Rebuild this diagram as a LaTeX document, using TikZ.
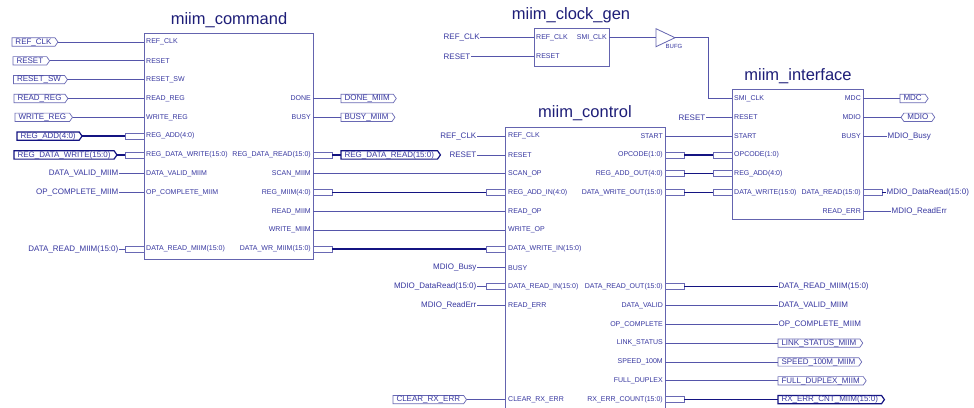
\documentclass[tikz,border=0pt]{standalone}
\usepackage{fontspec}
\setmainfont{Liberation Sans}
\usetikzlibrary{shapes.symbols}
\definecolor{wirec}{RGB}{85,85,170}
\definecolor{txtc}{RGB}{55,55,160}
\definecolor{busc}{RGB}{20,20,130}
\definecolor{titc}{RGB}{30,30,120}
\definecolor{blkc}{RGB}{100,100,175}
\definecolor{portc}{RGB}{105,105,180}
\tikzset{
  wire/.style={draw=wirec, line width=0.8pt},
  bus/.style={draw=busc, line width=1.5pt},
  blk/.style={draw=blkc, line width=0.8pt, inner sep=0pt, outer sep=0pt},
  blkline/.style={draw=blkc, line width=0.8pt},
  stubst/.style={draw=portc, line width=0.6pt, minimum width=19pt, minimum height=6pt, inner sep=0pt, outer sep=0pt},
  pinL/.style={anchor=west, font=\fontsize{7}{7}\selectfont, text=txtc, inner sep=0pt},
  pinR/.style={anchor=east, font=\fontsize{7}{7}\selectfont, text=txtc, inner sep=0pt},
  extL/.style={anchor=east, font=\fontsize{8}{8}\selectfont, text=txtc, inner sep=0.5pt},
  extR/.style={anchor=west, font=\fontsize{8}{8}\selectfont, text=txtc, inner sep=0.5pt},
  title/.style={font=\fontsize{16.5}{16.5}\selectfont, text=titc, inner sep=0pt},
  port/.style={signal, signal to=east, signal pointer angle=110, draw=portc, line width=0.7pt,
    inner xsep=3.5pt, inner ysep=0.6pt, text height=5.8pt, text depth=1.4pt, outer sep=0pt,
    font=\fontsize{8}{8}\selectfont, text=txtc, anchor=west},
  busport/.style={port, draw=busc, line width=1.2pt},
  biport/.style={port, signal to=west and east},
}
\begin{document}
\begin{tikzpicture}[x=1pt,y=-1pt]
\useasboundingbox (0,0) rectangle (974,407);
\clip (0,0) rectangle (974,407);
\fill[white] (0,0) rectangle (974,407);

% ================= miim_command =================
\node[title] (tCmd) at (229,20) {miim\_command};
\node[blk, minimum width=169pt, minimum height=226pt, anchor=north west] (cmd) at (144,33) {};
\foreach \y/\t [count=\i] in {42/REF\_CLK, 60.8/RESET, 79.6/RESET\_SW, 98.5/READ\_REG, 117.3/WRITE\_REG,
  136.1/REG\_ADD(4:0), 154.9/REG\_DATA\_WRITE(15:0), 173.7/DATA\_VALID\_MIIM, 192.6/OP\_COMPLETE\_MIIM,
  249/DATA\_READ\_MIIM(15:0)}
  \node[pinL] (cmdL\i) at (146,\y) {\t};
\foreach \y/\t [count=\i] in {98.5/DONE, 117.3/BUSY, 154.9/REG\_DATA\_READ(15:0), 173.7/SCAN\_MIIM,
  192.6/REG\_MIIM(4:0), 211.4/READ\_MIIM, 230.2/WRITE\_MIIM, 249/DATA\_WR\_MIIM(15:0)}
  \node[pinR] (cmdR\i) at (311,\y) {\t};

% left side of miim_command
\node[port] (pRefClk) at (12,42) {REF\_CLK};
\node[port] (pReset) at (13,60.8) {RESET};
\node[port] (pResetSW) at (13.5,79.6) {RESET\_SW};
\node[port] (pReadReg) at (14,98.5) {READ\_REG};
\node[port] (pWriteReg) at (15,117.3) {WRITE\_REG};
\node[busport] (pRegAdd) at (17,136.1) {REG\_ADD(4:0)};
\node[busport] (pRegDW) at (14,154.9) {REG\_DATA\_WRITE(15:0)};
\node[extL] (tDVM) at (119,173.7) {DATA\_VALID\_MIIM};
\node[extL] (tOPCM) at (119,192.6) {OP\_COMPLETE\_MIIM};
\node[extL] (tDRM) at (119,249) {DATA\_READ\_MIIM(15:0)};
\node[stubst, anchor=east] (sCmdL1) at (144,136.1) {};
\node[stubst, anchor=east] (sCmdL2) at (144,154.9) {};
\node[stubst, anchor=east] (sCmdL3) at (144,249) {};
\foreach \p in {pRefClk,pReset,pResetSW,pReadReg,pWriteReg}
  \draw[wire] (\p.east) -- (\p.east -| cmd.west);
\draw[bus] (pRegAdd.east) -- (sCmdL1.west);
\draw[bus] (pRegDW.east) -- (sCmdL2.west);
\draw[wire] (tDVM.east) -- (tDVM.east -| cmd.west);
\draw[wire] (tOPCM.east) -- (tOPCM.east -| cmd.west);
\draw[wire] (tDRM.east) -- (sCmdL3.west);

% right side of miim_command
\node[port] (pDone) at (341,98.5) {DONE\_MIIM};
\node[port] (pBusyM) at (341,117.3) {BUSY\_MIIM};
\node[busport] (pRDR) at (341,154.9) {REG\_DATA\_READ(15:0)};
\draw[wire] (cmd.east |- pDone.west) -- (pDone.west);
\draw[wire] (cmd.east |- pBusyM.west) -- (pBusyM.west);
\node[stubst, anchor=west] (sCmdR1) at (313,154.9) {};
\node[stubst, anchor=west] (sCmdR2) at (313,192.6) {};
\node[stubst, anchor=west] (sCmdR3) at (313,249) {};
\draw[bus] (sCmdR1.east) -- (pRDR.west);

% ================= miim_control =================
\node[title] (tCtl) at (585,113) {miim\_control};
\node[inner sep=0pt, outer sep=0pt, minimum width=160pt, minimum height=290pt, anchor=north west] (ctl) at (505,127) {};
\draw[blkline] (ctl.south west) -- (ctl.north west) -- (ctl.north east) -- (ctl.south east);
\foreach \y/\t [count=\i] in {136.1/REF\_CLK, 154.9/RESET, 173.7/SCAN\_OP, 192.6/REG\_ADD\_IN(4:0), 211.4/READ\_OP,
  230.2/WRITE\_OP, 249/DATA\_WRITE\_IN(15:0), 267.8/BUSY, 286.7/DATA\_READ\_IN(15:0), 305.5/READ\_ERR,
  399.6/CLEAR\_RX\_ERR}
  \node[pinL] (ctlL\i) at (508,\y) {\t};
\foreach \y/\t [count=\i] in {136.1/START, 154.9/OPCODE(1:0), 173.7/REG\_ADD\_OUT(4:0), 192.6/DATA\_WRITE\_OUT(15:0),
  286.7/DATA\_READ\_OUT(15:0), 305.5/DATA\_VALID, 324.3/OP\_COMPLETE, 343.1/LINK\_STATUS, 361.9/SPEED\_100M,
  380.8/FULL\_DUPLEX, 399.6/RX\_ERR\_COUNT(15:0)}
  \node[pinR] (ctlR\i) at (663,\y) {\t};

% connections miim_command -> miim_control
\node[stubst, anchor=east] (sCtlL1) at (505,192.6) {};
\node[stubst, anchor=east] (sCtlL2) at (505,249) {};
\node[stubst, anchor=east] (sCtlL3) at (505,286.7) {};
\draw[wire] (cmdR4.east -| cmd.east) -- (ctlL3.west -| ctl.west);
\draw[bus] (sCmdR2.east) -- (sCtlL1.west);
\draw[wire] (cmdR6.east -| cmd.east) -- (ctlL5.west -| ctl.west);
\draw[wire] (cmdR7.east -| cmd.east) -- (ctlL6.west -| ctl.west);
\draw[bus] (sCmdR3.east) -- (sCtlL2.west);

% left inputs of miim_control
\node[extL] (tRefClk2) at (477,136.1) {REF\_CLK};
\node[extL] (tReset2) at (477,154.9) {RESET};
\node[extL] (tBusyIn) at (477,267.8) {MDIO\_Busy};
\node[extL] (tDRIn) at (477,286.7) {MDIO\_DataRead(15:0)};
\node[extL] (tREIn) at (477,305.5) {MDIO\_ReadErr};
\node[port] (pClr) at (393,399.6) {CLEAR\_RX\_ERR};
\draw[wire] (tRefClk2.east) -- (tRefClk2.east -| ctl.west);
\draw[wire] (tReset2.east) -- (tReset2.east -| ctl.west);
\draw[wire] (tBusyIn.east) -- (tBusyIn.east -| ctl.west);
\draw[wire] (tDRIn.east) -- (sCtlL3.west);
\draw[wire] (tREIn.east) -- (tREIn.east -| ctl.west);
\draw[wire] (pClr.east) -- (pClr.east -| ctl.west);

% right outputs of miim_control
\node[stubst, anchor=west] (sCtlR1) at (665,154.9) {};
\node[stubst, anchor=west] (sCtlR2) at (665,173.7) {};
\node[stubst, anchor=west] (sCtlR3) at (665,192.6) {};
\node[stubst, anchor=west] (sCtlR4) at (665,286.7) {};
\node[stubst, anchor=west] (sCtlR5) at (665,399.6) {};
\node[extR] (tDRMo) at (778,286.7) {DATA\_READ\_MIIM(15:0)};
\node[extR] (tDVMo) at (778,305.5) {DATA\_VALID\_MIIM};
\node[extR] (tOPCMo) at (778,324.3) {OP\_COMPLETE\_MIIM};
\node[port] (pLink) at (778,343.1) {LINK\_STATUS\_MIIM};
\node[port] (pSpeed) at (778,361.9) {SPEED\_100M\_MIIM};
\node[port] (pFull) at (778,380.8) {FULL\_DUPLEX\_MIIM};
\node[busport] (pRxErr) at (778,399.6) {RX\_ERR\_CNT\_MIIM(15:0)};
\draw[bus] (sCtlR4.east) -- (tDRMo.west);
\foreach \p in {tDVMo,tOPCMo,pLink,pSpeed,pFull}
  \draw[wire] (ctl.east |- \p.west) -- (\p.west);
\draw[bus] (sCtlR5.east) -- (pRxErr.west);

% ================= miim_interface =================
\node[title] (tIfc) at (798,76) {miim\_interface};
\node[blk, minimum width=131pt, minimum height=130pt, anchor=north west] (ifc) at (732,89) {};
\foreach \y/\t [count=\i] in {98.5/SMI\_CLK, 117.3/RESET, 136.1/START, 154.9/OPCODE(1:0), 173.7/REG\_ADD(4:0),
  192.6/DATA\_WRITE(15:0)}
  \node[pinL] (ifcL\i) at (734,\y) {\t};
\foreach \y/\t [count=\i] in {98.5/MDC, 117.3/MDIO, 136.1/BUSY, 192.6/DATA\_READ(15:0), 211.4/READ\_ERR}
  \node[pinR] (ifcR\i) at (861,\y) {\t};
\node[stubst, anchor=east] (sIfcL1) at (732,154.9) {};
\node[stubst, anchor=east] (sIfcL2) at (732,173.7) {};
\node[stubst, anchor=east] (sIfcL3) at (732,192.6) {};
\draw[wire] (ctlR1.east -| ctl.east) -- (ifcL3.west -| ifc.west);
\draw[bus] (sCtlR1.east) -- (sIfcL1.west);
\draw[bus] (sCtlR2.east) -- (sIfcL2.west);
\draw[bus] (sCtlR3.east) -- (sIfcL3.west);
\node[extL] (tReset3) at (706,117.3) {RESET};
\draw[wire] (tReset3.east) -- (tReset3.east -| ifc.west);

\node[port] (pMDC) at (900,98.5) {MDC};
\node[biport] (pMDIO) at (901,117.3) {MDIO};
\node[extR] (tBusyO) at (887,136.1) {MDIO\_Busy};
\node[stubst, anchor=west] (sIfcR1) at (863,192.6) {};
\node[extR] (tDRO) at (886,192.6) {MDIO\_DataRead(15:0)};
\node[extR] (tREO) at (891,211.4) {MDIO\_ReadErr};
\draw[wire] (ifc.east |- pMDC.west) -- (pMDC.west);
\draw[wire] (ifc.east |- pMDIO.west) -- (pMDIO.west);
\draw[wire] (ifc.east |- tBusyO.west) -- (tBusyO.west);
\draw[bus] (sIfcR1.east) -- (tDRO.west);
\draw[wire] (ifc.east |- tREO.west) -- (tREO.west);

% ================= miim_clock_gen =================
\node[title] (tClk) at (571,15) {miim\_clock\_gen};
\node[blk, minimum width=75pt, minimum height=38pt, anchor=north west] (clk) at (534,28) {};
\node[pinL] (clkL1) at (536,37.7) {REF\_CLK};
\node[pinL] (clkL2) at (536,56.5) {RESET};
\node[pinR] (clkR1) at (607,37.7) {SMI\_CLK};
\node[extR] (tRefClk1) at (443,37.7) {REF\_CLK};
\node[extR] (tReset1) at (443,56.5) {RESET};
\draw[wire] (tRefClk1.east) -- (tRefClk1.east -| clk.west);
\draw[wire] (tReset1.east) -- (tReset1.east -| clk.west);

% BUFG
\coordinate (bufIn) at (656,37.7);
\coordinate (bufOut) at (675,37.7);
\coordinate (bufBend) at (708,37.7);
\draw[blkline] (656,28.7) -- (bufOut) -- (656,46.7) -- cycle;
\node[font=\fontsize{6}{6}\selectfont, text=txtc, inner sep=0pt] (tBufg) at (674,46) {BUFG};
\draw[wire] (clkR1.east -| clk.east) -- (bufIn);
\draw[wire] (bufOut) -- (bufBend) |- (ifcL1.west -| ifc.west);
\end{tikzpicture}
\end{document}
